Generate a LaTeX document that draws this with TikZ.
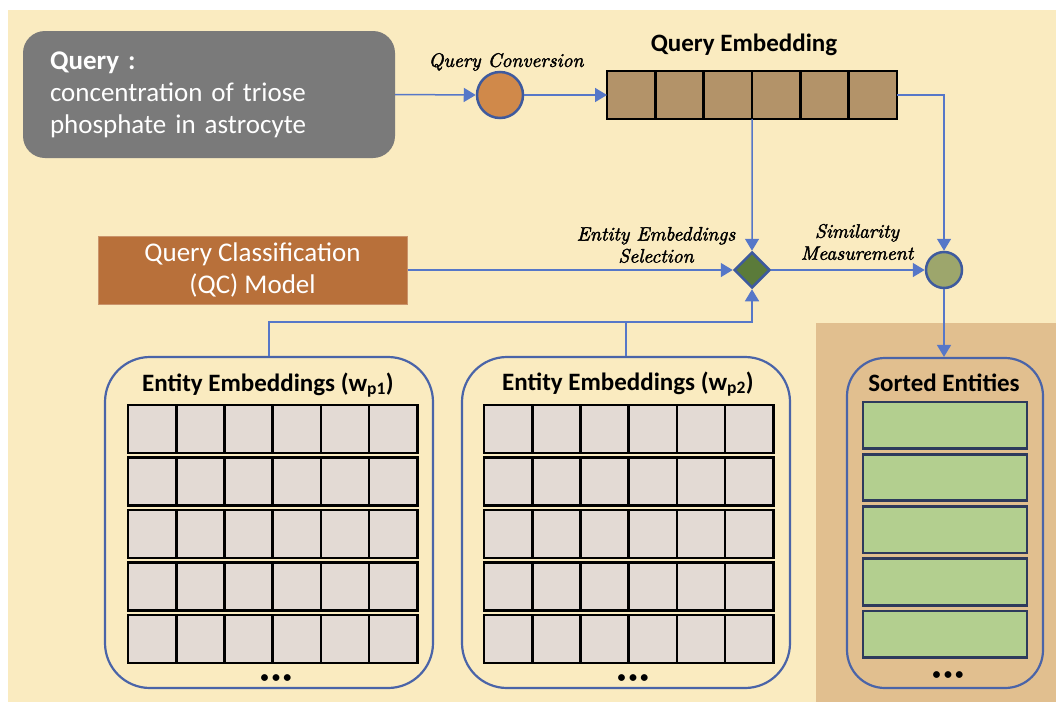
\documentclass[tikz,border=0pt]{standalone}
\usepackage{fontspec}
\newfontfamily\calibri{Carlito}
\newfontface\lblit{lmroman10-italic.otf}[FakeBold=2]
\usetikzlibrary{arrows.meta,shapes.geometric}

\definecolor{bgbeige}{HTML}{FAEBC0}
\definecolor{sortbg}{HTML}{E1BF8F}
\definecolor{querygray}{HTML}{7A7A7A}
\definecolor{convorange}{HTML}{D0894A}
\definecolor{qefill}{HTML}{B39369}
\definecolor{qcorange}{HTML}{B8703A}
\definecolor{selgreen}{HTML}{5B7B3A}
\definecolor{simgreen}{HTML}{9DA66C}
\definecolor{rowgreen}{HTML}{B3CF8F}
\definecolor{rownavy}{HTML}{2D3A5C}
\definecolor{cellgray}{HTML}{E3DAD4}
\definecolor{flowblue}{HTML}{5677C8}
\definecolor{nodeblue}{HTML}{3E5A9E}
\definecolor{boxblue}{HTML}{4A64A8}

\newcommand{\moredots}{\textbullet\hspace{3.5pt}\textbullet\hspace{3.5pt}\textbullet}

\begin{document}
\begin{tikzpicture}[x=1pt,y=-1pt,
  flow/.style={draw=flowblue, line width=1.5pt, -{Triangle[length=12pt,width=14pt]}},
  link/.style={draw=flowblue, line width=1.5pt},
  title/.style={font=\calibri\bfseries\fontsize{25}{28}\selectfont, inner sep=0pt},
  lbl/.style={font=\lblit\fontsize{19.5}{22}\selectfont, align=center, inner sep=0pt},
  qcell/.style={draw=black, line width=2.6pt, fill=qefill, minimum width=48.33pt, minimum height=48pt, inner sep=0pt, outer sep=0pt},
  ecell/.style={draw=black, line width=2.6pt, fill=cellgray, minimum width=48.2pt, minimum height=48pt, inner sep=0pt, outer sep=0pt},
  srow/.style={draw=rownavy, line width=2.6pt, fill=rowgreen, minimum width=164pt, minimum height=46.5pt, inner sep=0pt},
  ebox/.style={draw=boxblue, line width=2.2pt, rounded corners=45pt, minimum width=328pt, minimum height=331pt, inner sep=0pt},
  dots/.style={font=\calibri\bfseries\fontsize{16}{18}\selectfont, inner sep=0pt},
  roundnode/.style={circle, draw=nodeblue, line width=2.5pt, inner sep=0pt}
]
\useasboundingbox (0,0) rectangle (1056,704);

% backdrop and the sorted-entities panel
\fill[bgbeige] (8,10) rectangle (1056,702);
\fill[sortbg] (816,323) rectangle (1056,702);

% query
\node[fill=querygray, rounded corners=22pt, minimum width=372pt, minimum height=127pt,
      text width=318pt, inner xsep=27pt, align=left, text=white,
      font=\calibri\fontsize{27}{32}\selectfont] (query) at (209,94.5)
  {\textbf{Query :}\\concentration of triose\\phosphate in astrocyte};

% query conversion
\node[roundnode, fill=convorange, minimum size=46pt] (conv) at (500,95) {};
\node[lbl] (convlbl) at (506,62) {Query Conversion};

% query embedding
\foreach \i in {0,...,5}
  \node[qcell] (qe\i) at ({631.17+48.33*\i},95) {};
\node[title] (qetitle) at (744,45) {Query Embedding};

% query classification model
\node[fill=qcorange, draw=qcorange!75!white, line width=1pt, minimum width=309pt, minimum height=68pt,
      align=center, text=white, font=\calibri\fontsize{27}{32}\selectfont] (qc) at (252.5,270)
  {Query Classification\\(QC) Model};

% selection and similarity
\node[diamond, aspect=1, draw=nodeblue, line width=2.5pt, fill=selgreen, minimum width=36pt, minimum height=36pt, inner sep=0pt] (sel) at (752,270) {};
\node[roundnode, fill=simgreen, minimum size=36pt] (sim) at (944,270) {};
\node[lbl] (sellbl) at (656,245) {Entity Embeddings\\Selection};
\node[lbl] (simlbl) at (857,242) {Similarity\\Measurement};

% entity embedding tables
\node[ebox] (ew1) at (269,522.5) {};
\node[ebox] (ew2) at (626,522.5) {};
\node[title] (ew1title) at (268,385) {Entity Embeddings (w\textsubscript{p1})};
\node[title] (ew2title) at (628,384) {Entity Embeddings (w\textsubscript{p2})};
\foreach \r in {0,...,4}
  \foreach \c in {0,...,5} {
    \node[ecell] (a\r\c) at ({152.1+48.2*\c},{429+52.5*\r}) {};
    \node[ecell] (b\r\c) at ({508.1+48.2*\c},{429+52.5*\r}) {};
  }
\node[dots] (ew1dots) at (276,679) {\moredots};
\node[dots] (ew2dots) at (633,679) {\moredots};

% sorted entities
\node[draw=boxblue, line width=2.2pt, rounded corners=38pt, minimum width=196pt, minimum height=330pt, inner sep=0pt] (sorted) at (945,523) {};
\node[title] (sortedtitle) at (944,383) {Sorted Entities};
\foreach \r in {0,...,4}
  \node[srow] (s\r) at (945,{425.25+52.25*\r}) {};
\node[dots] (sdots) at (948,676) {\moredots};

% connectors
\coordinate (join) at (752,322);
\draw[flow] (query.east) -- (conv.west);
\draw[flow] (conv.east) -- (qe0.west);
\draw[flow] (qe5.east) -| (sim.north);
\draw[flow] (qe2.south east) -- (sel.north);
\draw[flow] (qc.east) -- (sel.west);
\draw[flow] (ew1.north) |- (join) -- (sel.south);
\draw[link] (ew2.north) -- (ew2.north |- join);
\draw[flow] (sel.east) -- (sim.west);
\draw[flow] (sim.south) -- (sim.south |- sorted.north);
\end{tikzpicture}
\end{document}
